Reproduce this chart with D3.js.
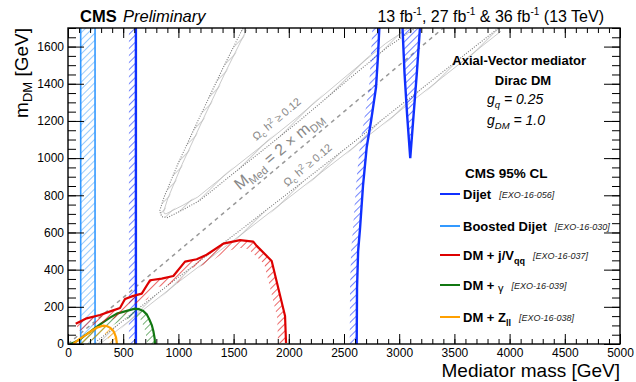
<!DOCTYPE html>
<html>
<head>
<meta charset="utf-8">
<script src="https://cdn.jsdelivr.net/npm/d3@7"></script>
<style>
  body { margin: 0; background: #fff; }
  svg { display: block; font-family: "Liberation Sans", Arial, Helvetica, sans-serif; }
</style>
</head>
<body>
<script>
// axis ticks
var xTicks = [0, 500, 1000, 1500, 2000, 2500, 3000, 3500, 4000, 4500, 5000];
var yTicks = [0, 200, 400, 600, 800, 1000, 1200, 1400, 1600];

// exclusion contours [mediator mass, m_DM] in GeV
var boostedDijet = [115, 245];
var dijetLow = 615;
var dijetHigh = [[2615, 0], [2618, 300], [2628, 500], [2645, 620], [2672, 850], [2706, 1060],
  [2745, 1200], [2790, 1380], [2808, 1550], [2820, 1700]];
var dijetV = [[3030, 1700], [3048, 1460], [3072, 1230], [3100, 1000], [3130, 1230], [3160, 1460], [3188, 1700]];
var monojet = [[70, 109], [169, 138], [290, 156], [396, 178], [471, 194], [516, 242], [592, 259],
  [668, 271], [743, 343], [849, 352], [954, 366], [1060, 443], [1166, 456], [1256, 480],
  [1407, 540], [1558, 559], [1678, 551], [1709, 528], [1845, 447], [1966, 151], [1975, 5]];
var monophoton = [[20, 0], [60, 10], [109, 25], [150, 45], [200, 65], [229, 79], [300, 110],
  [380, 142], [450, 165], [532, 178], [607, 190], [650, 186], [682, 178], [715, 158],
  [736, 133], [760, 100], [773, 70], [785, 30], [788, 0]];
var monoZ = [[45, 0], [100, 25], [169, 52], [215, 72], [260, 88], [320, 99], [350, 97],
  [380, 88], [405, 75], [419, 61], [435, 35], [441, 11], [442, 0]];

// relic density lines
var relicUpper = [[1585, 1700], [1400, 1480], [1200, 1230], [1000, 975], [870, 790], [830, 715],
  [850, 685], [900, 680], [1050, 725], [1196, 773], [1497, 917], [1800, 1059], [2101, 1203],
  [2554, 1430], [2900, 1600], [3150, 1700]];
var relicLower = [[230, 0], [1000, 360], [1600, 630], [2554, 1070], [3900, 1700]];
var diagonal = [[0, 0], [3400, 1700]];

// legend
var legendNames = ["Dijet", "Boosted Dijet", "DM + j/V", "DM + ", "DM + Z"];
var legendSubs = ["", "", "qq", "", "ll"];
var legendRefs = ["[EXO-16-056]", "[EXO-16-030]", "[EXO-16-037]", "[EXO-16-039]", "[EXO-16-038]"];
var legendColors = ["#1030ff", "#3399ff", "#dd0000", "#117711", "#ffa000"];

var W = 636, H = 382;
var margin = {top: 28, right: 16, bottom: 38, left: 68};

var x = d3.scaleLinear().domain([0, 5000]).range([margin.left, W - margin.right]);
var y = d3.scaleLinear().domain([0, 1700]).range([H - margin.bottom, margin.top]);

var svg = d3.select("body").append("svg").attr("width", W).attr("height", H);
var defs = svg.append("defs");

defs.append("clipPath").attr("id", "plot")
  .append("rect").attr("x", x(0)).attr("y", y(1700)).attr("width", x(5000) - x(0)).attr("height", y(0) - y(1700));

// "/" hatch patterns, one per colour
function hatch(id, color, gap, sw) {
  var p = defs.append("pattern").attr("id", id).attr("patternUnits", "userSpaceOnUse")
    .attr("width", gap).attr("height", gap).attr("patternTransform", "rotate(45)");
  p.append("line").attr("x1", 0).attr("y1", 0).attr("x2", 0).attr("y2", gap)
    .attr("stroke", color).attr("stroke-width", sw);
}
hatch("hDijet", legendColors[0], 5, 1.2);
hatch("hBoost", legendColors[1], 5, 1);
hatch("hRed", legendColors[2], 5, 1.2);
hatch("hGreen", legendColors[3], 5, 1.2);
hatch("hOrange", legendColors[4], 5, 1.2);
hatch("hGrey", "#9a9a9a", 6, 0.9);

var line = d3.line().x(function(d) { return x(d[0]); }).y(function(d) { return y(d[1]); });

// pixel points of a curve shifted sideways by w
function offset(data, w, side) {
  var pts = data.map(function(d) { return [x(d[0]), y(d[1])]; });
  var n = pts.length, off = [];
  for (var i = 0; i < n; i++) {
    var a = pts[Math.max(0, i - 1)], b = pts[Math.min(n - 1, i + 1)];
    var dx = b[0] - a[0], dy = b[1] - a[1], L = Math.hypot(dx, dy) || 1;
    off.push([pts[i][0] - side * dy / L * w, pts[i][1] + side * dx / L * w]);
  }
  return {pts: pts, off: off};
}
// strip of width w on one side of a curve
function strip(data, w, side) {
  var o = offset(data, w, side);
  return "M" + o.pts.concat(o.off.reverse()).join("L") + "Z";
}

var g = svg.append("g").attr("clip-path", "url(#plot)");

// relic density (grey): dotted contour, solid companion line and hatching between
[[relicUpper, -1], [relicLower, 1]].forEach(function(r) {
  g.append("path").attr("d", strip(r[0], 5, r[1])).attr("fill", "url(#hGrey)");
  g.append("path").attr("d", line(r[0])).attr("fill", "none")
    .attr("stroke", "#777").attr("stroke-width", 1.1).attr("stroke-dasharray", "1,1.5");
  g.append("path").attr("d", "M" + offset(r[0], 4, r[1]).off.join("L")).attr("fill", "none")
    .attr("stroke", "#bdbdbd").attr("stroke-width", 0.8);
});
g.append("path").attr("d", line(diagonal)).attr("fill", "none")
  .attr("stroke", "#999").attr("stroke-width", 1.5).attr("stroke-dasharray", "4,4");

// boosted dijet band
g.append("rect").attr("x", x(boostedDijet[0])).attr("y", y(1700))
  .attr("width", x(boostedDijet[1]) - x(boostedDijet[0])).attr("height", y(0) - y(1700))
  .attr("fill", "url(#hBoost)");
boostedDijet.forEach(function(m) {
  g.append("path").attr("d", line([[m, 0], [m, 1700]])).attr("stroke", legendColors[1]).attr("stroke-width", 1.6);
});

// dijet
var lowLine = [[dijetLow, 0], [dijetLow, 1700]];
g.append("path").attr("d", strip(lowLine, 7, -1)).attr("fill", "url(#hDijet)");
g.append("path").attr("d", strip(dijetHigh, 7, -1)).attr("fill", "url(#hDijet)");
g.append("path").attr("d", line(dijetV) + "Z").attr("fill", "url(#hDijet)");
[lowLine, dijetHigh, dijetV].forEach(function(c) {
  g.append("path").attr("d", line(c)).attr("fill", "none")
    .attr("stroke", legendColors[0]).attr("stroke-width", 2.4);
});

// mono-X curves
[[monophoton, "hGreen", 3], [monoZ, "hOrange", 4], [monojet, "hRed", 2]].forEach(function(c) {
  g.append("path").attr("d", strip(c[0], 8, 1)).attr("fill", "url(#" + c[1] + ")");
  g.append("path").attr("d", line(c[0])).attr("fill", "none")
    .attr("stroke", legendColors[c[2]]).attr("stroke-width", 2.2).attr("stroke-linejoin", "round");
});

// grey labels along the diagonal
function greyLabel(cx, cy, size, parts) {
  var t = svg.append("text").attr("transform", "translate(" + cx + "," + cy + ") rotate(-40)")
    .attr("text-anchor", "middle").attr("fill", "#888").attr("font-size", size);
  parts.forEach(function(p) {
    t.append("tspan").text(p[0]).attr("dy", p[1]).attr("font-size", p[2] || null);
  });
}
greyLabel(279, 122, 11, [["\u03A9", 0], ["c", 3, 8], [" h", -3], ["2", -4, 8], [" \u2265 0.12", 4]]);
greyLabel(282, 155, 16, [["M", 0], ["Med", 4, 11], [" = 2 \u00D7 m", -4], ["DM", 4, 11]]);
greyLabel(310, 168, 11, [["\u03A9", 0], ["c", 3, 8], [" h", -3], ["2", -4, 8], [" \u2265 0.12", 4]]);

// axes: ROOT style inward ticks on all four sides
function axis(gen, pos, vals, size, labels) {
  var a = gen.tickValues(vals).tickSize(-size).tickPadding(4);
  a.tickFormat(labels ? d3.format("d") : "");
  var ax = svg.append("g").attr("transform", pos).call(a);
  ax.select(".domain").remove();
  ax.selectAll("line").attr("stroke", "#000");
  ax.selectAll("text").attr("font-size", 12).attr("fill", "#000")
    .attr("font-family", "Liberation Sans, Arial, sans-serif");
  return ax;
}
var xMinor = d3.range(0, 5001, 100), yMinor = d3.range(0, 1701, 50);
axis(d3.axisBottom(x), "translate(0," + y(0) + ")", xTicks, 10, true);
axis(d3.axisBottom(x), "translate(0," + y(0) + ")", xMinor, 5, false);
axis(d3.axisTop(x), "translate(0," + y(1700) + ")", xTicks, 10, false);
axis(d3.axisTop(x), "translate(0," + y(1700) + ")", xMinor, 5, false);
axis(d3.axisLeft(y), "translate(" + x(0) + ",0)", yTicks, 16, true);
axis(d3.axisLeft(y), "translate(" + x(0) + ",0)", yMinor, 8, false);
axis(d3.axisRight(y), "translate(" + x(5000) + ",0)", yTicks, 16, false);
axis(d3.axisRight(y), "translate(" + x(5000) + ",0)", yMinor, 8, false);

svg.append("rect").attr("x", x(0)).attr("y", y(1700)).attr("width", x(5000) - x(0))
  .attr("height", y(0) - y(1700)).attr("fill", "none").attr("stroke", "#000").attr("stroke-width", 1.4);

// axis titles
svg.append("text").attr("x", x(5000)).attr("y", 377).attr("text-anchor", "end")
  .attr("font-size", 19).text("Mediator mass [GeV]");
var yt = svg.append("text").attr("transform", "translate(28," + y(1700) + ") rotate(-90)")
  .attr("text-anchor", "end").attr("font-size", 19);
yt.append("tspan").text("m");
yt.append("tspan").text("DM").attr("font-size", 13).attr("dy", 4);
yt.append("tspan").text(" [GeV]").attr("dy", -4);

// header
svg.append("text").attr("x", 80).attr("y", 22).attr("font-size", 16.5).attr("font-weight", "bold").text("CMS");
svg.append("text").attr("x", 123).attr("y", 22).attr("font-size", 16.5).attr("font-style", "italic").text("Preliminary");
var lumi = svg.append("text").attr("x", 604).attr("y", 22).attr("text-anchor", "end").attr("font-size", 16);
lumi.append("tspan").text("13 fb");
lumi.append("tspan").text("-1").attr("font-size", 10).attr("dy", -7);
lumi.append("tspan").text(", 27 fb").attr("dy", 7);
lumi.append("tspan").text("-1").attr("font-size", 10).attr("dy", -7);
lumi.append("tspan").text(" & 36 fb").attr("dy", 7);
lumi.append("tspan").text("-1").attr("font-size", 10).attr("dy", -7);
lumi.append("tspan").text(" (13 TeV)").attr("dy", 7);

// model text
svg.append("text").attr("x", 586).attr("y", 65).attr("text-anchor", "end").attr("font-size", 13)
  .attr("font-weight", "bold").text("Axial-Vector mediator");
svg.append("text").attr("x", 523).attr("y", 85).attr("text-anchor", "middle").attr("font-size", 13)
  .attr("font-weight", "bold").text("Dirac DM");
var gq = svg.append("text").attr("x", 487).attr("y", 104).attr("font-size", 14).attr("font-style", "italic");
gq.append("tspan").text("g");
gq.append("tspan").text("q").attr("font-size", 9.5).attr("dy", 4);
gq.append("tspan").text(" = 0.25").attr("dy", -4);
var gdm = svg.append("text").attr("x", 487).attr("y", 125).attr("font-size", 14).attr("font-style", "italic");
gdm.append("tspan").text("g");
gdm.append("tspan").text("DM").attr("font-size", 9.5).attr("dy", 4);
gdm.append("tspan").text(" = 1.0").attr("dy", -4);

// legend
svg.append("text").attr("x", 465).attr("y", 178).attr("font-size", 13.5).attr("font-weight", "bold").text("CMS 95% CL");
var legY = [194, 226, 255, 285, 317];
legendNames.forEach(function(name, i) {
  svg.append("line").attr("x1", 440).attr("x2", 460).attr("y1", legY[i]).attr("y2", legY[i])
    .attr("stroke", legendColors[i]).attr("stroke-width", 2);
  var t = svg.append("text").attr("x", 463).attr("y", legY[i] + 4.5).attr("font-size", 13).attr("font-weight", "bold");
  t.append("tspan").text(name);
  if (i === 3) t.append("tspan").text("\u03B3").attr("font-weight", "normal").attr("font-size", 11).attr("dy", 2);
  if (legendSubs[i]) t.append("tspan").text(legendSubs[i]).attr("font-size", 9).attr("dy", 4);
  var tw = t.node().getComputedTextLength();
  svg.append("text").attr("x", 463 + tw + 8).attr("y", legY[i] + 3.5).attr("font-size", 9)
    .attr("font-style", "italic").attr("fill", "#222").text(legendRefs[i]);
});
</script>
</body>
</html>
